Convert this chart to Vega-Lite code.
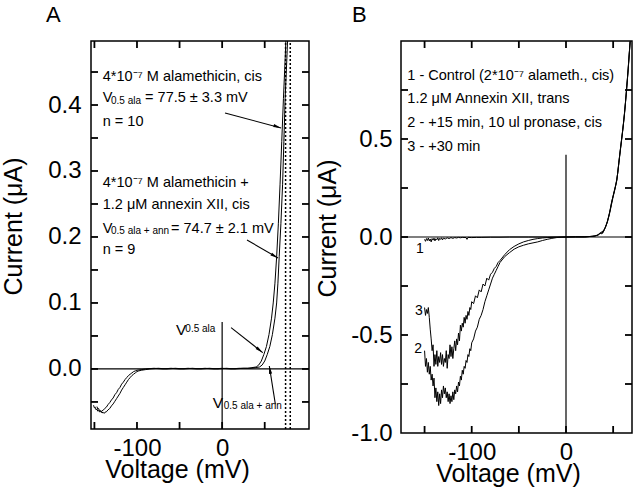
{
  "$schema": "https://vega.github.io/schema/vega-lite/v6.json",
  "padding": {"left": 0, "right": 4, "top": 3, "bottom": 4},
  "spacing": 0,
  "config": {
    "font": "Liberation Sans",
    "view": {"stroke": "black", "strokeWidth": 1.5},
    "axis": {"domain": false, "grid": false, "ticks": false, "tickSize": 0, "labelFont": "Liberation Sans", "labelFontSize": 24, "labelColor": "black", "titleFont": "Liberation Sans", "titleFontSize": 25, "titleFontWeight": "normal", "titleColor": "black", "labelOverlap": false, "labelFlush": false},
    "title": {"font": "Liberation Sans", "fontSize": 22, "fontWeight": "normal", "color": "black", "anchor": "start", "frame": "group", "baseline": "alphabetic"},
    "text": {"font": "Liberation Sans", "color": "black", "align": "left", "baseline": "alphabetic"}
  },
  "datasets": {
    "ticksA": [
      {"e":"b","v":-150,"i":-0.091},{"e":"b","v":-100,"i":-0.091},{"e":"b","v":-50,"i":-0.091},{"e":"b","v":0,"i":-0.091},{"e":"b","v":50,"i":-0.091},
      {"e":"t","v":-150,"i":0.497},{"e":"t","v":-100,"i":0.497},{"e":"t","v":-50,"i":0.497},{"e":"t","v":0,"i":0.497},{"e":"t","v":50,"i":0.497},
      {"e":"l","v":-154,"i":-0.05},{"e":"l","v":-154,"i":0},{"e":"l","v":-154,"i":0.05},{"e":"l","v":-154,"i":0.1},{"e":"l","v":-154,"i":0.15},{"e":"l","v":-154,"i":0.2},{"e":"l","v":-154,"i":0.25},{"e":"l","v":-154,"i":0.3},{"e":"l","v":-154,"i":0.35},{"e":"l","v":-154,"i":0.4},{"e":"l","v":-154,"i":0.45},
      {"e":"r","v":102,"i":-0.05},{"e":"r","v":102,"i":0},{"e":"r","v":102,"i":0.05},{"e":"r","v":102,"i":0.1},{"e":"r","v":102,"i":0.15},{"e":"r","v":102,"i":0.2},{"e":"r","v":102,"i":0.25},{"e":"r","v":102,"i":0.3},{"e":"r","v":102,"i":0.35},{"e":"r","v":102,"i":0.4},{"e":"r","v":102,"i":0.45}
    ],
    "ticksB": [
      {"e":"b","v":-150,"i":-1.0},{"e":"b","v":-100,"i":-1.0},{"e":"b","v":-50,"i":-1.0},{"e":"b","v":0,"i":-1.0},{"e":"b","v":50,"i":-1.0},
      {"e":"t","v":-150,"i":1.0},{"e":"t","v":-100,"i":1.0},{"e":"t","v":-50,"i":1.0},{"e":"t","v":0,"i":1.0},{"e":"t","v":50,"i":1.0},
      {"e":"l","v":-175,"i":-0.75},{"e":"l","v":-175,"i":-0.5},{"e":"l","v":-175,"i":-0.25},{"e":"l","v":-175,"i":0},{"e":"l","v":-175,"i":0.25},{"e":"l","v":-175,"i":0.5},{"e":"l","v":-175,"i":0.75},
      {"e":"r","v":70,"i":-0.75},{"e":"r","v":70,"i":-0.5},{"e":"r","v":70,"i":-0.25},{"e":"r","v":70,"i":0},{"e":"r","v":70,"i":0.25},{"e":"r","v":70,"i":0.5},{"e":"r","v":70,"i":0.75}
    ],
    "curvesA": [
      {"s":"a","v":-151,"i":-0.055},{"s":"a","v":-150,"i":-0.059},{"s":"a","v":-149,"i":-0.058},{"s":"a","v":-148,"i":-0.062},{"s":"a","v":-147,"i":-0.061},{"s":"a","v":-146,"i":-0.064},{"s":"a","v":-145,"i":-0.063},{"s":"a","v":-144,"i":-0.065},{"s":"a","v":-143,"i":-0.064},{"s":"a","v":-142,"i":-0.065},{"s":"a","v":-141,"i":-0.063},{"s":"a","v":-140,"i":-0.063},{"s":"a","v":-138,"i":-0.060},{"s":"a","v":-136,"i":-0.058},{"s":"a","v":-134,"i":-0.054},{"s":"a","v":-132,"i":-0.051},{"s":"a","v":-130,"i":-0.047},{"s":"a","v":-128,"i":-0.044},{"s":"a","v":-126,"i":-0.039},{"s":"a","v":-124,"i":-0.036},{"s":"a","v":-122,"i":-0.031},{"s":"a","v":-120,"i":-0.028},{"s":"a","v":-118,"i":-0.023},{"s":"a","v":-116,"i":-0.020},{"s":"a","v":-114,"i":-0.016},{"s":"a","v":-112,"i":-0.013},{"s":"a","v":-110,"i":-0.010},{"s":"a","v":-108,"i":-0.008},{"s":"a","v":-106,"i":-0.006},{"s":"a","v":-104,"i":-0.004},{"s":"a","v":-102,"i":-0.003},{"s":"a","v":-100,"i":-0.002},{"s":"a","v":-95,"i":-0.001},{"s":"a","v":-90,"i":0},{"s":"a","v":-80,"i":0.001},{"s":"a","v":-70,"i":0},{"s":"a","v":-60,"i":0.001},{"s":"a","v":-50,"i":0},{"s":"a","v":-40,"i":0.001},{"s":"a","v":-30,"i":0},{"s":"a","v":-20,"i":0.001},{"s":"a","v":-10,"i":0},{"s":"a","v":0,"i":0.001},{"s":"a","v":10,"i":0},{"s":"a","v":20,"i":0.001},{"s":"a","v":30,"i":0.001},{"s":"a","v":35,"i":0.002},{"s":"a","v":40,"i":0.003},{"s":"a","v":43,"i":0.006},{"s":"a","v":46,"i":0.012},{"s":"a","v":49,"i":0.022},{"s":"a","v":52,"i":0.034},{"s":"a","v":55,"i":0.052},{"s":"a","v":58,"i":0.077},{"s":"a","v":60,"i":0.1},{"s":"a","v":62,"i":0.13},{"s":"a","v":64,"i":0.17},{"s":"a","v":66,"i":0.22},{"s":"a","v":68,"i":0.28},{"s":"a","v":70,"i":0.345},{"s":"a","v":72,"i":0.41},{"s":"a","v":74,"i":0.47},{"s":"a","v":75.5,"i":0.52},
      {"s":"b","v":-147,"i":-0.057},{"s":"b","v":-146,"i":-0.061},{"s":"b","v":-145,"i":-0.060},{"s":"b","v":-144,"i":-0.064},{"s":"b","v":-143,"i":-0.063},{"s":"b","v":-142,"i":-0.066},{"s":"b","v":-141,"i":-0.065},{"s":"b","v":-140,"i":-0.067},{"s":"b","v":-139,"i":-0.066},{"s":"b","v":-138,"i":-0.067},{"s":"b","v":-137,"i":-0.065},{"s":"b","v":-136,"i":-0.065},{"s":"b","v":-134,"i":-0.062},{"s":"b","v":-132,"i":-0.060},{"s":"b","v":-130,"i":-0.056},{"s":"b","v":-128,"i":-0.053},{"s":"b","v":-126,"i":-0.049},{"s":"b","v":-124,"i":-0.045},{"s":"b","v":-122,"i":-0.041},{"s":"b","v":-120,"i":-0.037},{"s":"b","v":-118,"i":-0.032},{"s":"b","v":-116,"i":-0.028},{"s":"b","v":-114,"i":-0.024},{"s":"b","v":-112,"i":-0.020},{"s":"b","v":-110,"i":-0.016},{"s":"b","v":-108,"i":-0.013},{"s":"b","v":-106,"i":-0.010},{"s":"b","v":-104,"i":-0.008},{"s":"b","v":-102,"i":-0.006},{"s":"b","v":-100,"i":-0.004},{"s":"b","v":-98,"i":-0.003},{"s":"b","v":-95,"i":-0.002},{"s":"b","v":-90,"i":-0.001},{"s":"b","v":-85,"i":0},{"s":"b","v":-75,"i":0.001},{"s":"b","v":-65,"i":0},{"s":"b","v":-55,"i":0.001},{"s":"b","v":-45,"i":0},{"s":"b","v":-35,"i":0.001},{"s":"b","v":-25,"i":0},{"s":"b","v":-15,"i":0.001},{"s":"b","v":-5,"i":0},{"s":"b","v":5,"i":0.001},{"s":"b","v":15,"i":0},{"s":"b","v":25,"i":0.001},{"s":"b","v":34,"i":0.001},{"s":"b","v":39,"i":0.002},{"s":"b","v":44,"i":0.003},{"s":"b","v":47,"i":0.006},{"s":"b","v":50,"i":0.012},{"s":"b","v":53,"i":0.022},{"s":"b","v":56,"i":0.034},{"s":"b","v":59,"i":0.052},{"s":"b","v":62,"i":0.077},{"s":"b","v":64,"i":0.1},{"s":"b","v":65.5,"i":0.13},{"s":"b","v":67,"i":0.17},{"s":"b","v":69,"i":0.22},{"s":"b","v":71,"i":0.28},{"s":"b","v":72.5,"i":0.345},{"s":"b","v":74,"i":0.41},{"s":"b","v":76,"i":0.47},{"s":"b","v":77.5,"i":0.52}
    ],
    "curvesB": [
      {"s":"1","v":-150,"i":-0.012},{"s":"1","v":-149,"i":-0.022},{"s":"1","v":-148,"i":-0.008},{"s":"1","v":-147,"i":-0.018},{"s":"1","v":-146,"i":-0.005},{"s":"1","v":-145,"i":-0.02},{"s":"1","v":-144,"i":-0.01},{"s":"1","v":-143,"i":-0.025},{"s":"1","v":-142,"i":-0.008},{"s":"1","v":-141,"i":-0.016},{"s":"1","v":-140,"i":-0.006},{"s":"1","v":-139,"i":-0.02},{"s":"1","v":-138,"i":-0.009},{"s":"1","v":-137,"i":-0.014},{"s":"1","v":-136,"i":-0.004},{"s":"1","v":-135,"i":-0.018},{"s":"1","v":-134,"i":-0.007},{"s":"1","v":-133,"i":-0.012},{"s":"1","v":-132,"i":-0.004},{"s":"1","v":-131,"i":-0.015},{"s":"1","v":-130,"i":-0.006},{"s":"1","v":-128,"i":-0.01},{"s":"1","v":-126,"i":-0.004},{"s":"1","v":-124,"i":-0.008},{"s":"1","v":-122,"i":-0.003},{"s":"1","v":-120,"i":-0.007},{"s":"1","v":-118,"i":-0.003},{"s":"1","v":-116,"i":-0.005},{"s":"1","v":-114,"i":-0.002},{"s":"1","v":-112,"i":-0.004},{"s":"1","v":-110,"i":-0.002},{"s":"1","v":-106,"i":-0.003},{"s":"1","v":-105,"i":-0.012},{"s":"1","v":-104,"i":-0.002},{"s":"1","v":-100,"i":-0.003},{"s":"1","v":-95,"i":-0.002},{"s":"1","v":-90,"i":-0.002},{"s":"1","v":-80,"i":-0.001},{"s":"1","v":-70,"i":-0.001},{"s":"1","v":-60,"i":0},{"s":"1","v":-40,"i":0},{"s":"1","v":-20,"i":0},{"s":"1","v":0,"i":0},{"s":"1","v":10,"i":0.001},{"s":"1","v":20,"i":0.001},{"s":"1","v":28,"i":0.003},{"s":"1","v":33,"i":0.008},{"s":"1","v":36,"i":0.02},{"s":"1","v":38,"i":0.016},{"s":"1","v":40,"i":0.035},{"s":"1","v":42,"i":0.05},{"s":"1","v":44,"i":0.08},{"s":"1","v":46,"i":0.12},{"s":"1","v":48,"i":0.17},{"s":"1","v":50,"i":0.21},{"s":"1","v":52,"i":0.25},{"s":"1","v":54,"i":0.29},{"s":"1","v":56,"i":0.38},{"s":"1","v":58,"i":0.46},{"s":"1","v":60,"i":0.54},{"s":"1","v":62,"i":0.63},{"s":"1","v":64,"i":0.74},{"s":"1","v":66,"i":0.86},{"s":"1","v":68,"i":1.0},
      {"s":"3","v":-150,"i":-0.36},{"s":"3","v":-149,"i":-0.40},{"s":"3","v":-148,"i":-0.37},{"s":"3","v":-147,"i":-0.39},{"s":"3","v":-146,"i":-0.36},{"s":"3","v":-145,"i":-0.41},{"s":"3","v":-144,"i":-0.47},{"s":"3","v":-143,"i":-0.52},{"s":"3","v":-142,"i":-0.58},{"s":"3","v":-141,"i":-0.55},{"s":"3","v":-140,"i":-0.66},{"s":"3","v":-139,"i":-0.60},{"s":"3","v":-138,"i":-0.65},{"s":"3","v":-137,"i":-0.58},{"s":"3","v":-136,"i":-0.66},{"s":"3","v":-135,"i":-0.61},{"s":"3","v":-134,"i":-0.64},{"s":"3","v":-133,"i":-0.59},{"s":"3","v":-132,"i":-0.65},{"s":"3","v":-131,"i":-0.60},{"s":"3","v":-130,"i":-0.66},{"s":"3","v":-129,"i":-0.62},{"s":"3","v":-128,"i":-0.64},{"s":"3","v":-127,"i":-0.58},{"s":"3","v":-126,"i":-0.67},{"s":"3","v":-125,"i":-0.60},{"s":"3","v":-124,"i":-0.62},{"s":"3","v":-123,"i":-0.55},{"s":"3","v":-122,"i":-0.61},{"s":"3","v":-121,"i":-0.56},{"s":"3","v":-120,"i":-0.62},{"s":"3","v":-119,"i":-0.57},{"s":"3","v":-118,"i":-0.53},{"s":"3","v":-117,"i":-0.58},{"s":"3","v":-116,"i":-0.52},{"s":"3","v":-115,"i":-0.55},{"s":"3","v":-114,"i":-0.49},{"s":"3","v":-113,"i":-0.53},{"s":"3","v":-112,"i":-0.45},{"s":"3","v":-111,"i":-0.48},{"s":"3","v":-110,"i":-0.44},{"s":"3","v":-109,"i":-0.46},{"s":"3","v":-108,"i":-0.41},{"s":"3","v":-107,"i":-0.44},{"s":"3","v":-106,"i":-0.40},{"s":"3","v":-105,"i":-0.42},{"s":"3","v":-104,"i":-0.38},{"s":"3","v":-103,"i":-0.40},{"s":"3","v":-102,"i":-0.36},{"s":"3","v":-101,"i":-0.37},{"s":"3","v":-100,"i":-0.33},{"s":"3","v":-98,"i":-0.34},{"s":"3","v":-96,"i":-0.30},{"s":"3","v":-94,"i":-0.31},{"s":"3","v":-92,"i":-0.27},{"s":"3","v":-90,"i":-0.28},{"s":"3","v":-88,"i":-0.24},{"s":"3","v":-86,"i":-0.25},{"s":"3","v":-84,"i":-0.21},{"s":"3","v":-82,"i":-0.22},{"s":"3","v":-80,"i":-0.19},{"s":"3","v":-78,"i":-0.18},{"s":"3","v":-76,"i":-0.16},{"s":"3","v":-74,"i":-0.15},{"s":"3","v":-72,"i":-0.13},{"s":"3","v":-70,"i":-0.12},{"s":"3","v":-65,"i":-0.09},{"s":"3","v":-60,"i":-0.065},{"s":"3","v":-55,"i":-0.048},{"s":"3","v":-50,"i":-0.035},{"s":"3","v":-45,"i":-0.025},{"s":"3","v":-40,"i":-0.018},{"s":"3","v":-35,"i":-0.012},{"s":"3","v":-30,"i":-0.008},{"s":"3","v":-25,"i":-0.005},{"s":"3","v":-20,"i":-0.003},{"s":"3","v":-10,"i":-0.001},{"s":"3","v":0,"i":0},{"s":"3","v":10,"i":0},{"s":"3","v":20,"i":0.001},{"s":"3","v":30,"i":0.004},{"s":"3","v":34,"i":0.01},{"s":"3","v":37,"i":0.022},{"s":"3","v":39,"i":0.02},{"s":"3","v":41,"i":0.04},{"s":"3","v":43,"i":0.065},{"s":"3","v":45,"i":0.1},{"s":"3","v":47,"i":0.14},{"s":"3","v":49,"i":0.19},{"s":"3","v":51,"i":0.23},{"s":"3","v":53,"i":0.27},{"s":"3","v":55,"i":0.33},{"s":"3","v":57,"i":0.42},{"s":"3","v":59,"i":0.5},{"s":"3","v":61,"i":0.58},{"s":"3","v":63,"i":0.68},{"s":"3","v":65,"i":0.8},{"s":"3","v":67,"i":0.93},{"s":"3","v":68.5,"i":1.02},
      {"s":"2","v":-150,"i":-0.58},{"s":"2","v":-149,"i":-0.66},{"s":"2","v":-148,"i":-0.62},{"s":"2","v":-147,"i":-0.69},{"s":"2","v":-146,"i":-0.64},{"s":"2","v":-145,"i":-0.70},{"s":"2","v":-144,"i":-0.66},{"s":"2","v":-143,"i":-0.73},{"s":"2","v":-142,"i":-0.70},{"s":"2","v":-141,"i":-0.76},{"s":"2","v":-140,"i":-0.72},{"s":"2","v":-139,"i":-0.82},{"s":"2","v":-138,"i":-0.77},{"s":"2","v":-137,"i":-0.84},{"s":"2","v":-136,"i":-0.79},{"s":"2","v":-135,"i":-0.86},{"s":"2","v":-134,"i":-0.80},{"s":"2","v":-133,"i":-0.85},{"s":"2","v":-132,"i":-0.78},{"s":"2","v":-131,"i":-0.82},{"s":"2","v":-130,"i":-0.76},{"s":"2","v":-129,"i":-0.80},{"s":"2","v":-128,"i":-0.77},{"s":"2","v":-127,"i":-0.82},{"s":"2","v":-126,"i":-0.79},{"s":"2","v":-125,"i":-0.84},{"s":"2","v":-124,"i":-0.80},{"s":"2","v":-123,"i":-0.85},{"s":"2","v":-122,"i":-0.81},{"s":"2","v":-121,"i":-0.84},{"s":"2","v":-120,"i":-0.79},{"s":"2","v":-119,"i":-0.83},{"s":"2","v":-118,"i":-0.78},{"s":"2","v":-117,"i":-0.80},{"s":"2","v":-116,"i":-0.76},{"s":"2","v":-115,"i":-0.79},{"s":"2","v":-114,"i":-0.74},{"s":"2","v":-113,"i":-0.76},{"s":"2","v":-112,"i":-0.71},{"s":"2","v":-111,"i":-0.73},{"s":"2","v":-110,"i":-0.68},{"s":"2","v":-109,"i":-0.70},{"s":"2","v":-108,"i":-0.66},{"s":"2","v":-107,"i":-0.67},{"s":"2","v":-106,"i":-0.63},{"s":"2","v":-105,"i":-0.64},{"s":"2","v":-104,"i":-0.60},{"s":"2","v":-103,"i":-0.61},{"s":"2","v":-102,"i":-0.57},{"s":"2","v":-101,"i":-0.58},{"s":"2","v":-100,"i":-0.54},{"s":"2","v":-98,"i":-0.52},{"s":"2","v":-96,"i":-0.48},{"s":"2","v":-94,"i":-0.46},{"s":"2","v":-92,"i":-0.42},{"s":"2","v":-90,"i":-0.40},{"s":"2","v":-88,"i":-0.37},{"s":"2","v":-86,"i":-0.33},{"s":"2","v":-84,"i":-0.30},{"s":"2","v":-82,"i":-0.27},{"s":"2","v":-80,"i":-0.24},{"s":"2","v":-78,"i":-0.21},{"s":"2","v":-76,"i":-0.19},{"s":"2","v":-74,"i":-0.17},{"s":"2","v":-72,"i":-0.15},{"s":"2","v":-70,"i":-0.13},{"s":"2","v":-65,"i":-0.10},{"s":"2","v":-60,"i":-0.08},{"s":"2","v":-55,"i":-0.062},{"s":"2","v":-50,"i":-0.05},{"s":"2","v":-45,"i":-0.042},{"s":"2","v":-40,"i":-0.035},{"s":"2","v":-35,"i":-0.03},{"s":"2","v":-30,"i":-0.025},{"s":"2","v":-25,"i":-0.018},{"s":"2","v":-20,"i":-0.012},{"s":"2","v":-15,"i":-0.007},{"s":"2","v":-10,"i":-0.003},{"s":"2","v":-5,"i":-0.001},{"s":"2","v":0,"i":0},{"s":"2","v":10,"i":0.001},{"s":"2","v":20,"i":0},{"s":"2","v":30,"i":0.005},{"s":"2","v":35,"i":0.012},{"s":"2","v":38,"i":0.028},{"s":"2","v":40,"i":0.03},{"s":"2","v":42,"i":0.055},{"s":"2","v":44,"i":0.078},{"s":"2","v":46,"i":0.115},{"s":"2","v":48,"i":0.16},{"s":"2","v":50,"i":0.205},{"s":"2","v":52,"i":0.245},{"s":"2","v":54,"i":0.295},{"s":"2","v":56,"i":0.375},{"s":"2","v":58,"i":0.455},{"s":"2","v":60,"i":0.535},{"s":"2","v":62,"i":0.625},{"s":"2","v":64,"i":0.735},{"s":"2","v":66,"i":0.855},{"s":"2","v":68,"i":0.995}
    ]
  },
  "hconcat": [
    {
      "width": 218,
      "height": 388,
      "title": {"text": "A", "dx": -45, "offset": 10},
      "encoding": {
        "x": {"field": "v", "type": "quantitative", "scale": {"domain": [-154, 102], "nice": false, "zero": false}, "axis": null},
        "y": {"field": "i", "type": "quantitative", "scale": {"domain": [-0.091, 0.497], "nice": false, "zero": false}, "axis": null}
      },
      "layer": [
        {
          "data": {"name": "curvesA"},
          "mark": {"type": "line", "color": "black", "strokeWidth": 1, "clip": true},
          "encoding": {
            "x": {"field": "v", "type": "quantitative", "scale": {"domain": [-154, 102], "nice": false, "zero": false},
                  "axis": {"orient": "bottom", "values": [-100, 0], "labelExpr": "datum.value < 0 ? '-' + abs(datum.value) : '' + datum.value", "title": "Voltage (mV)", "labelPadding": 7, "titlePadding": -3, "titleX": 86}},
            "y": {"field": "i", "type": "quantitative", "scale": {"domain": [-0.091, 0.497], "nice": false, "zero": false},
                  "axis": {"orient": "left", "values": [0, 0.1, 0.2, 0.3, 0.4], "labelExpr": "format(datum.value, '.1f')", "title": "Current (μA)", "labelPadding": 10, "titlePadding": 21, "titleY": 185}},
            "detail": {"field": "s"}
          }
        },
        {
          "data": {"name": "ticksA"},
          "transform": [{"filter": "datum.e === 'b'"}],
          "mark": {"type": "point", "shape": "M0,0L0,-2", "size": 49, "filled": false, "color": "black", "strokeWidth": 1.8, "opacity": 1}
        },
        {
          "data": {"name": "ticksA"},
          "transform": [{"filter": "datum.e === 't'"}],
          "mark": {"type": "point", "shape": "M0,0L0,2", "size": 49, "filled": false, "color": "black", "strokeWidth": 1.8, "opacity": 1}
        },
        {
          "data": {"name": "ticksA"},
          "transform": [{"filter": "datum.e === 'l'"}],
          "mark": {"type": "point", "shape": "M0,0L2,0", "size": 49, "filled": false, "color": "black", "strokeWidth": 1.8, "opacity": 1}
        },
        {
          "data": {"name": "ticksA"},
          "transform": [{"filter": "datum.e === 'r'"}],
          "mark": {"type": "point", "shape": "M0,0L-2,0", "size": 49, "filled": false, "color": "black", "strokeWidth": 1.8, "opacity": 1}
        },
        {
          "data": {"values": [{"v": -154, "v2": 102, "i": 0, "i2": 0}, {"v": 0, "v2": 0, "i": -0.091, "i2": 0.071}]},
          "mark": {"type": "rule", "color": "black", "strokeWidth": 1.2},
          "encoding": {"x2": {"field": "v2"}, "y2": {"field": "i2"}}
        },
        {
          "data": {"values": [{"v": 74.5, "v2": 74.5, "i": -0.091, "i2": 0.497}, {"v": 80, "v2": 80, "i": -0.091, "i2": 0.497}]},
          "mark": {"type": "rule", "color": "black", "strokeWidth": 1.5, "strokeDash": [2, 2]},
          "encoding": {"x2": {"field": "v2"}, "y2": {"field": "i2"}}
        },
        {
          "data": {"values": [
            {"v": 3.4, "i": 0.388, "v2": 69.2, "i2": 0.3652},
            {"v": 29.2, "i": 0.1955, "v2": 65.6, "i2": 0.1682},
            {"v": 10.5, "i": 0.0626, "v2": 47.7, "i2": 0.0247},
            {"v": 62.5, "i": -0.0535, "v2": 55.4, "i2": 0.0045}
          ]},
          "mark": {"type": "rule", "color": "black", "strokeWidth": 1.1},
          "encoding": {"x2": {"field": "v2"}, "y2": {"field": "i2"}}
        },
        {
          "data": {"values": [{"v": 69.2, "i": 0.3652}]},
          "mark": {"type": "point", "shape": "M0,0L-0.45,2.2L0.45,2.2Z", "filled": true, "color": "black", "opacity": 1, "size": 50, "angle": 108, "strokeWidth": 0}
        },
        {
          "data": {"values": [{"v": 65.6, "i": 0.1682}]},
          "mark": {"type": "point", "shape": "M0,0L-0.45,2.2L0.45,2.2Z", "filled": true, "color": "black", "opacity": 1, "size": 50, "angle": 120, "strokeWidth": 0}
        },
        {
          "data": {"values": [{"v": 47.7, "i": 0.0247}]},
          "mark": {"type": "point", "shape": "M0,0L-0.45,2.2L0.45,2.2Z", "filled": true, "color": "black", "opacity": 1, "size": 50, "angle": 128, "strokeWidth": 0}
        },
        {
          "data": {"values": [{"v": 55.4, "i": 0.0045}]},
          "mark": {"type": "point", "shape": "M0,0L-0.45,2.2L0.45,2.2Z", "filled": true, "color": "black", "opacity": 1, "size": 50, "angle": 351, "strokeWidth": 0}
        },
        {
          "data": {"values": [
            {"v": -140.2, "i": 0.4364, "t": "4*10⁻⁷ M alamethicin, cis"},
            {"v": -140.2, "i": 0.4046, "t": "V"},
            {"v": -90.5, "i": 0.4046, "t": "= 77.5 ± 3.3 mV"},
            {"v": -140.2, "i": 0.3682, "t": "n = 10"},
            {"v": -140.2, "i": 0.2763, "t": "4*10⁻⁷ M alamethicin +"},
            {"v": -140.2, "i": 0.242, "t": "1.2 μM annexin XII, cis"},
            {"v": -140.2, "i": 0.2066, "t": "V"},
            {"v": -60, "i": 0.2066, "t": "= 74.7 ± 2.1 mV"},
            {"v": -140.2, "i": 0.1738, "t": "n = 9"}
          ]},
          "mark": {"type": "text", "fontSize": 14.5},
          "encoding": {"text": {"field": "t"}}
        },
        {
          "data": {"values": [
            {"v": -130.5, "i": 0.401, "t": "0.5 ala"},
            {"v": -130.5, "i": 0.204, "t": "0.5 ala + ann"},
            {"v": -43.2, "i": 0.0565, "t": "0.5 ala"},
            {"v": 1.9, "i": -0.0611, "t": "0.5 ala + ann"}
          ]},
          "mark": {"type": "text", "fontSize": 10},
          "encoding": {"text": {"field": "t"}}
        },
        {
          "data": {"values": [
            {"v": -54.1, "i": 0.051, "t": "V"},
            {"v": -11, "i": -0.0586, "t": "V"}
          ]},
          "mark": {"type": "text", "fontSize": 15.5},
          "encoding": {"text": {"field": "t"}}
        }
      ],
      "resolve": {"axis": {"x": "independent", "y": "independent"}}
    },
    {
      "width": 231,
      "height": 392,
      "title": {"text": "B", "dx": -49, "offset": 10},
      "encoding": {
        "x": {"field": "v", "type": "quantitative", "scale": {"domain": [-175, 70], "nice": false, "zero": false}, "axis": null},
        "y": {"field": "i", "type": "quantitative", "scale": {"domain": [-1.0, 1.0], "nice": false, "zero": false}, "axis": null}
      },
      "layer": [
        {
          "data": {"name": "curvesB"},
          "mark": {"type": "line", "color": "black", "strokeWidth": 1, "clip": true},
          "encoding": {
            "x": {"field": "v", "type": "quantitative", "scale": {"domain": [-175, 70], "nice": false, "zero": false},
                  "axis": {"orient": "bottom", "values": [-100, 0], "labelExpr": "datum.value < 0 ? '-' + abs(datum.value) : '' + datum.value", "title": "Voltage (mV)", "labelPadding": 7, "titlePadding": -3, "titleX": 107}},
            "y": {"field": "i", "type": "quantitative", "scale": {"domain": [-1.0, 1.0], "nice": false, "zero": false},
                  "axis": {"orient": "left", "values": [-1, -0.5, 0, 0.5], "labelExpr": "datum.value < 0 ? '-' + format(-datum.value, '.1f') : format(datum.value, '.1f')", "title": "Current (μA)", "labelPadding": 9, "titlePadding": 10, "titleY": 187}},
            "detail": {"field": "s"}
          }
        },
        {
          "data": {"name": "ticksB"},
          "transform": [{"filter": "datum.e === 'b'"}],
          "mark": {"type": "point", "shape": "M0,0L0,-2", "size": 49, "filled": false, "color": "black", "strokeWidth": 1.8, "opacity": 1}
        },
        {
          "data": {"name": "ticksB"},
          "transform": [{"filter": "datum.e === 't'"}],
          "mark": {"type": "point", "shape": "M0,0L0,2", "size": 49, "filled": false, "color": "black", "strokeWidth": 1.8, "opacity": 1}
        },
        {
          "data": {"name": "ticksB"},
          "transform": [{"filter": "datum.e === 'l'"}],
          "mark": {"type": "point", "shape": "M0,0L2,0", "size": 49, "filled": false, "color": "black", "strokeWidth": 1.8, "opacity": 1}
        },
        {
          "data": {"name": "ticksB"},
          "transform": [{"filter": "datum.e === 'r'"}],
          "mark": {"type": "point", "shape": "M0,0L-2,0", "size": 49, "filled": false, "color": "black", "strokeWidth": 1.8, "opacity": 1}
        },
        {
          "data": {"values": [{"v": -175, "v2": 70, "i": 0, "i2": 0}, {"v": 0, "v2": 0, "i": -1.0, "i2": 0.42}]},
          "mark": {"type": "rule", "color": "black", "strokeWidth": 1.2},
          "encoding": {"x2": {"field": "v2"}, "y2": {"field": "i2"}}
        },
        {
          "data": {"values": [
            {"v": -168.3, "i": 0.801, "t": "1 - Control (2*10⁻⁷ alameth., cis)"},
            {"v": -168.3, "i": 0.684, "t": "1.2 μM Annexin XII, trans"},
            {"v": -168.3, "i": 0.561, "t": "2 - +15 min, 10 ul pronase, cis"},
            {"v": -168.3, "i": 0.439, "t": "3 - +30 min"}
          ]},
          "mark": {"type": "text", "fontSize": 14.5},
          "encoding": {"text": {"field": "t"}}
        },
        {
          "data": {"values": [
            {"v": -159, "i": -0.082, "t": "1"},
            {"v": -160.1, "i": -0.396, "t": "3"},
            {"v": -160.9, "i": -0.592, "t": "2"}
          ]},
          "mark": {"type": "text", "fontSize": 14},
          "encoding": {"text": {"field": "t"}}
        }
      ],
      "resolve": {"axis": {"x": "independent", "y": "independent"}}
    }
  ]
}
